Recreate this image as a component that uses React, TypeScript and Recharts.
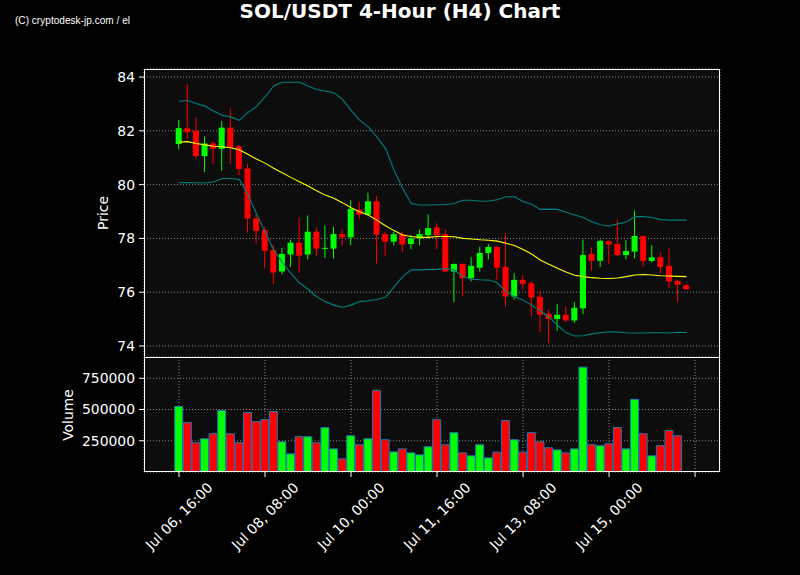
import React from 'react';
import { ComposedChart, Bar, Line, XAxis, YAxis, CartesianGrid, Cell } from 'recharts';

const opens = [81.51, 82.09, 82.0, 81.06, 81.53, 81.33, 82.12, 81.42, 80.6, 78.74, 78.31, 77.57, 76.77, 77.4, 77.84, 77.4, 78.25, 77.62, 77.62, 78.16, 78.04, 79.07, 78.88, 79.38, 78.16, 77.88, 78.16, 77.79, 78.0, 78.12, 78.41, 78.16, 76.77, 77.05, 76.52, 76.91, 77.46, 77.68, 76.94, 75.84, 76.46, 76.33, 75.83, 75.2, 75.0, 75.16, 74.95, 75.4, 77.42, 77.17, 77.9, 77.8, 77.38, 77.51, 78.09, 77.16, 77.3, 76.98, 76.42, 76.26];
const highs = [82.41, 83.74, 82.52, 81.79, 81.6, 82.36, 82.83, 81.48, 80.78, 78.89, 78.43, 77.75, 77.65, 77.96, 78.78, 78.85, 78.41, 78.48, 78.43, 78.33, 79.42, 79.37, 79.7, 79.57, 78.25, 78.25, 78.25, 78.12, 78.33, 78.89, 78.56, 78.33, 77.07, 77.07, 77.3, 77.69, 77.79, 77.72, 78.19, 76.7, 76.63, 76.42, 76.05, 75.35, 75.56, 75.47, 75.63, 77.96, 77.67, 77.96, 77.93, 78.7, 77.94, 79.04, 78.11, 77.74, 77.48, 77.63, 76.48, 76.31];
const lows = [81.31, 81.7, 80.96, 80.47, 80.78, 80.52, 80.78, 80.35, 78.22, 77.81, 76.88, 76.31, 76.67, 76.93, 76.73, 77.22, 77.35, 77.27, 77.25, 77.74, 77.75, 78.72, 78.85, 77.07, 77.35, 77.73, 77.48, 77.6, 77.74, 78.0, 77.6, 76.74, 75.63, 75.85, 76.4, 76.77, 77.22, 76.46, 75.44, 75.72, 76.09, 75.1, 74.52, 74.11, 74.57, 74.89, 74.85, 75.19, 76.8, 76.93, 77.05, 77.36, 77.22, 77.26, 76.93, 77.1, 76.7, 76.15, 75.64, 76.09];
const closes = [82.1, 81.95, 81.06, 81.53, 81.33, 82.12, 81.36, 80.58, 78.74, 78.28, 77.54, 76.73, 77.42, 77.84, 77.36, 78.25, 77.62, 77.65, 78.16, 78.04, 79.1, 78.88, 79.38, 78.14, 77.88, 78.16, 77.77, 78.0, 78.16, 78.38, 78.12, 76.77, 77.05, 76.52, 76.98, 77.46, 77.68, 76.91, 75.84, 76.46, 76.31, 75.8, 75.16, 75.0, 75.16, 74.95, 75.42, 77.38, 77.17, 77.91, 77.77, 77.38, 77.53, 78.09, 77.16, 77.3, 76.94, 76.4, 76.28, 76.11];
const volumes = [524000, 395000, 234000, 266000, 306000, 492000, 306000, 234000, 476000, 403000, 419000, 484000, 242000, 145000, 282000, 282000, 234000, 355000, 185000, 105000, 290000, 218000, 266000, 653000, 258000, 161000, 185000, 153000, 137000, 202000, 419000, 218000, 315000, 153000, 129000, 218000, 113000, 159000, 411000, 258000, 159000, 315000, 242000, 194000, 177000, 153000, 185000, 839000, 218000, 210000, 226000, 355000, 185000, 581000, 306000, 129000, 210000, 331000, 290000, 3000];
const smaValues = [81.58, 81.6, 81.53, 81.48, 81.43, 81.41, 81.37, 81.3, 81.13, 80.95, 80.8, 80.61, 80.44, 80.27, 80.11, 79.95, 79.77, 79.61, 79.49, 79.33, 79.14, 78.99, 78.87, 78.68, 78.47, 78.29, 78.13, 78.07, 78.04, 78.04, 78.07, 78.07, 78.06, 78.0, 77.98, 77.95, 77.93, 77.9, 77.82, 77.74, 77.59, 77.42, 77.2, 77.04, 76.89, 76.75, 76.63, 76.58, 76.54, 76.52, 76.51, 76.53, 76.58, 76.64, 76.66, 76.64, 76.61, 76.6, 76.59, 76.58];
const upperBand = [83.1, 83.13, 83.02, 82.92, 82.74, 82.58, 82.52, 82.39, 82.68, 82.9, 83.26, 83.67, 83.81, 83.81, 83.81, 83.67, 83.54, 83.48, 83.42, 83.17, 82.77, 82.4, 82.15, 81.78, 81.35, 80.54, 79.86, 79.3, 79.24, 79.24, 79.25, 79.26, 79.3, 79.42, 79.42, 79.38, 79.39, 79.44, 79.55, 79.55, 79.37, 79.27, 79.08, 79.09, 79.08, 78.97, 78.87, 78.78, 78.62, 78.51, 78.46, 78.54, 78.61, 78.81, 78.81, 78.78, 78.7, 78.68, 78.68, 78.68];
const lowerBand = [80.07, 80.08, 80.07, 80.06, 80.1, 80.23, 80.23, 80.19, 79.64, 78.93, 78.25, 77.57, 77.12, 76.7, 76.35, 76.11, 75.83, 75.65, 75.52, 75.44, 75.52, 75.65, 75.68, 75.73, 75.81, 76.2, 76.58, 76.83, 76.83, 76.85, 76.85, 76.88, 76.83, 76.58, 76.48, 76.46, 76.45, 76.35, 76.02, 75.83, 75.71, 75.52, 75.31, 75.07, 74.78, 74.49, 74.37, 74.38, 74.45, 74.49, 74.53, 74.52, 74.49, 74.48, 74.48, 74.49, 74.49, 74.48, 74.51, 74.5];

const xTicks = [0, 10, 20, 30, 40, 50, 60];
const xTickLabels = ['Jul 06, 16:00', 'Jul 08, 08:00', 'Jul 10, 00:00', 'Jul 11, 16:00', 'Jul 13, 08:00', 'Jul 15, 00:00', ''];
const priceTicks = [74, 76, 78, 80, 82, 84];
const volumeTicks = [250000, 500000, 750000];

const X_DOMAIN: [number, number] = [-4.07, 62.9];
const PRICE_DOMAIN: [number, number] = [73.59, 84.3];
const VOL_DOMAIN: [number, number] = [0, 920000];

const UP = '#00ff00';
const DOWN = '#ff0000';
const GRID = '#8a8a8a';
const FONT = 'DejaVu Sans, sans-serif';

const data = opens.map((o, i) => ({
  i,
  o,
  h: highs[i],
  l: lows[i],
  c: closes[i],
  range: [lows[i], highs[i]],
  vol: volumes[i],
  sma: smaValues[i],
  upper: upperBand[i],
  lower: lowerBand[i],
}));

const Candle = (props: any) => {
  const { x, y, width, height } = props;
  const p = props.payload ?? props;
  const { o, h, l, c } = p;
  if (x == null || y == null || !isFinite(height)) return null;
  const ratio = h - l === 0 ? 0 : height / (h - l);
  const yOf = (v: number) => y + (h - v) * ratio;
  const color = c >= o ? UP : DOWN;
  const top = yOf(Math.max(o, c));
  const bot = yOf(Math.min(o, c));
  const cx = x + width / 2;
  return (
    <g>
      <line x1={cx} x2={cx} y1={y} y2={y + height} stroke={color} strokeWidth={1} />
      <rect x={x} y={top} width={width} height={Math.max(bot - top, 1)} fill={color} />
    </g>
  );
};

const XTick = (props: any) => {
  const { x, y, payload } = props;
  const idx = xTicks.indexOf(payload.value);
  const label = idx >= 0 ? xTickLabels[idx] : '';
  if (!label) return null;
  const cy = y + 37;
  return (
    <text
      x={x}
      y={cy}
      fill="#fff"
      fontSize={13.9}
      fontFamily={FONT}
      textAnchor="middle"
      dominantBaseline="central"
      transform={`rotate(-45 ${x} ${cy})`}
    >
      {label}
    </text>
  );
};

const PLOT_LEFT = 144;
const PLOT_RIGHT = 720;
const PRICE_TOP = 69;
const PANEL_SPLIT = 357;
const VOL_BOTTOM = 472;

export default function App() {
  return (
    <div
      style={{
        position: 'fixed',
        left: 0,
        top: 0,
        width: 800,
        height: 575,
        background: '#000',
        overflow: 'hidden',
        fontFamily: FONT,
      }}
    >
      <div style={{ position: 'absolute', left: 0, top: 0 }}>
        <ComposedChart width={800} height={358} data={data} margin={{ top: 69, right: 80, bottom: 1, left: 84 }}>
          <CartesianGrid stroke={GRID} strokeDasharray="1 2" fill="#0d0d0d" />
          <XAxis
            dataKey="i"
            type="number"
            domain={X_DOMAIN}
            allowDataOverflow
            ticks={xTicks}
            height={0}
            tick={false}
            tickLine={false}
            axisLine={false}
          />
          <YAxis
            type="number"
            domain={PRICE_DOMAIN}
            allowDataOverflow
            ticks={priceTicks}
            width={60}
            axisLine={false}
            tickLine={{ stroke: '#fff' }}
            tickSize={5}
            tickMargin={4}
            tick={{ fill: '#fff', fontSize: 13.9, fontFamily: FONT }}
          />
          <Line dataKey="upper" stroke="#008080" strokeWidth={1.1} dot={false} isAnimationActive={false} />
          <Line dataKey="lower" stroke="#008080" strokeWidth={1.1} dot={false} isAnimationActive={false} />
          <Line dataKey="sma" stroke="#ffff00" strokeWidth={1.1} dot={false} isAnimationActive={false} />
          <Bar dataKey="range" barSize={6} shape={(p: any) => <Candle {...p} />} isAnimationActive={false} />
        </ComposedChart>
      </div>
      <div style={{ position: 'absolute', left: 0, top: 357 }}>
        <ComposedChart width={800} height={215} data={data} margin={{ top: 0, right: 80, bottom: 0, left: 50 }}>
          <CartesianGrid stroke={GRID} strokeDasharray="1 2" fill="#0d0d0d" />
          <XAxis
            dataKey="i"
            type="number"
            domain={X_DOMAIN}
            allowDataOverflow
            ticks={xTicks}
            height={100}
            axisLine={false}
            tickLine={{ stroke: '#fff' }}
            tickSize={5}
            interval={0}
            tick={<XTick />}
          />
          <YAxis
            type="number"
            domain={VOL_DOMAIN}
            allowDataOverflow
            ticks={volumeTicks}
            width={94}
            axisLine={false}
            tickLine={{ stroke: '#fff' }}
            tickSize={5}
            tickMargin={4}
            tick={{ fill: '#fff', fontSize: 13.9, fontFamily: FONT }}
          />
          <Bar dataKey="vol" barSize={8} stroke="#1f77b4" strokeWidth={1} isAnimationActive={false}>
            {data.map((d, i) => (
              <Cell key={i} fill={d.c >= d.o ? UP : DOWN} />
            ))}
          </Bar>
        </ComposedChart>
      </div>
      <svg width={800} height={575} style={{ position: 'absolute', left: 0, top: 0, pointerEvents: 'none' }}>
        <rect
          x={PLOT_LEFT + 0.5}
          y={PRICE_TOP + 0.5}
          width={PLOT_RIGHT - PLOT_LEFT - 1}
          height={PANEL_SPLIT - PRICE_TOP}
          fill="none"
          stroke="#fff"
          strokeWidth={1}
        />
        <rect
          x={PLOT_LEFT + 0.5}
          y={PANEL_SPLIT + 0.5}
          width={PLOT_RIGHT - PLOT_LEFT - 1}
          height={VOL_BOTTOM - PANEL_SPLIT - 1}
          fill="none"
          stroke="#fff"
          strokeWidth={1}
        />
        <text x={400} y={18} textAnchor="middle" fill="#fff" fontSize={20} fontWeight="bold" fontFamily={FONT}>
          SOL/USDT 4-Hour (H4) Chart
        </text>
        <text
          x={15}
          y={24}
          fill="#fff"
          fontSize={10.5}
          fontFamily="Liberation Sans Narrow, Liberation Sans, sans-serif"
          textLength={115}
          lengthAdjust="spacingAndGlyphs"
        >
          (C) cryptodesk-jp.com / el
        </text>
        <text
          x={103}
          y={213}
          fill="#fff"
          fontSize={13.9}
          fontFamily={FONT}
          textAnchor="middle"
          dominantBaseline="central"
          transform="rotate(-90 103 213)"
        >
          Price
        </text>
        <text
          x={68}
          y={415}
          fill="#fff"
          fontSize={13.9}
          fontFamily={FONT}
          textAnchor="middle"
          dominantBaseline="central"
          transform="rotate(-90 68 415)"
        >
          Volume
        </text>
      </svg>
    </div>
  );
}
